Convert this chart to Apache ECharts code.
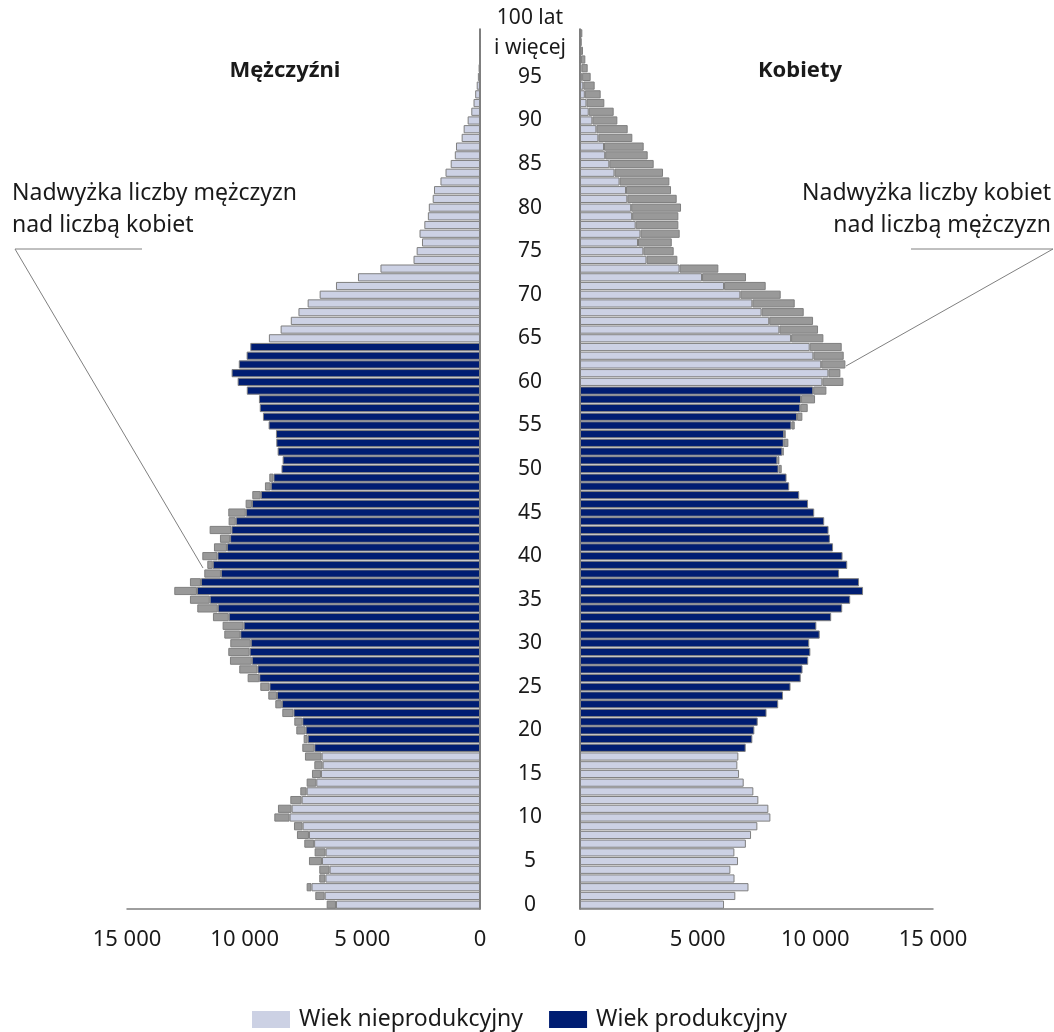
<!DOCTYPE html>
<html>
<head>
<meta charset="utf-8">
<script src="https://cdn.jsdelivr.net/npm/echarts/dist/echarts.min.js"></script>
<style>
html,body{margin:0;padding:0;background:#ffffff;}
#chart{width:1054px;height:1032px;}
</style>
</head>
<body>
<div id="chart"></div>
<script>
// ---- Data ----
const ages = ['0','1','2','3','4','5','6','7','8','9','10','11','12','13','14','15','16','17','18','19',
  '20','21','22','23','24','25','26','27','28','29','30','31','32','33','34','35','36','37','38','39',
  '40','41','42','43','44','45','46','47','48','49','50','51','52','53','54','55','56','57','58','59',
  '60','61','62','63','64','65','66','67','68','69','70','71','72','73','74','75','76','77','78','79',
  '80','81','82','83','84','85','86','87','88','89','90','91','92','93','94','95','96','97','98','99','100'];

const males = [6515,7000,7366,6830,6830,7268,7027,7466,7778,7905,
  8740,8585,8061,7636,7366,7140,7040,7438,7551,7494,
  7806,7891,8401,8698,8996,9336,9874,10229,10625,10696,
  10611,10866,10937,11348,12013,12325,12991,12325,11716,11588,
  11800,11305,11050,11489,10682,10696,9959,9676,9138,8953,
  8436,8387,8599,8656,8670,8982,9223,9358,9393,9910,
  10299,10555,10250,9917,9760,8970,8472,8040,7715,7324,
  6814,6120,5185,4230,2825,2692,2465,2570,2365,2215,
  2175,2010,1955,1680,1465,1245,1070,1020,780,695,
  525,370,275,205,140,90,60,40,25,15,10];

const females = [6120,6600,7160,6566,6390,6715,6560,7048,7268,7537,
  8090,8004,7579,7366,6956,6758,6686,6729,7040,7324,
  7409,7551,7926,8422,8627,8946,9379,9456,9697,9789,
  9740,10186,10044,10675,11142,11482,12028,11857,11008,11355,
  11156,10753,10618,10561,10377,9952,9690,9315,8890,8776,
  8571,8472,8656,8854,8741,9124,9449,9676,9988,10470,
  11192,11064,11277,11206,11121,10342,10115,9903,9506,9124,
  8528,7891,7055,5879,4137,3981,3900,4236,4179,4179,
  4293,4109,3868,3797,3528,3131,2876,2706,2224,2026,
  1587,1431,1034,878,623,453,326,227,128,71,99];

// productive age ranges (inclusive)
const maleProductive = [18, 64];
const femaleProductive = [18, 59];

const axisTicks = [0, 5000, 10000, 15000];
const ageLabelStep = 5;
const seriesNames = ['Wiek nieprodukcyjny', 'Wiek produkcyjny'];
const sideTitles = ['Mężczyźni', 'Kobiety'];
const notes = ['Nadwyżka liczby mężczyzn\nnad liczbą kobiet', 'Nadwyżka liczby kobiet\nnad liczbą mężczyzn'];
const topAgeLabel = '100 lat\ni więcej';

// ---- Derived ----
function buildSide(own, other, range) {
  const nonprod = [], prod = [], surplus = [];
  for (let i = 0; i < own.length; i++) {
    const base = Math.min(own[i], other[i]);
    const inRange = i >= range[0] && i <= range[1];
    nonprod.push(inRange ? '-' : base);
    prod.push(inRange ? base : '-');
    const d = own[i] - other[i];
    surplus.push(d > 0 ? d : '-');
  }
  return {nonprod, prod, surplus};
}
const L = buildSide(males, females, maleProductive);
const R = buildSide(females, males, femaleProductive);
const lastIdx = ages.length - 1;

const FONT = '"Noto Sans", "Open Sans", sans-serif';
const TXT = '#1a1a1a';
const COL_LIGHT = '#ccd1e4';
const COL_DARK = '#001d72';
const COL_GRAY = '#999999';
const BORDER = '#7f7f7f';

function fmt(v) { return String(v).replace(/\B(?=(\d{3})+(?!\d))/g, ' '); }

const xMax = axisTicks[axisTicks.length - 1];
const xInt = axisTicks[1] - axisTicks[0];

function barSeries(name, data, idx, color, stack) {
  return {
    name: name, type: 'bar', xAxisIndex: idx, yAxisIndex: idx, stack: stack,
    data: data, barCategoryGap: '6%',
    itemStyle: {color: color, borderColor: BORDER, borderWidth: 1},
    emphasis: {disabled: true}, animation: false
  };
}

const chart = echarts.init(document.getElementById('chart'), null, {renderer: 'canvas'});
const option = {
  backgroundColor: '#ffffff',
  animation: false,
  textStyle: {fontFamily: FONT, color: TXT},
  grid: [
    {left: 127, right: 574, top: 29, bottom: 123, containLabel: false, outerBoundsMode: 'none'},
    {left: 580, right: 121, top: 29, bottom: 123, containLabel: false, outerBoundsMode: 'none'}
  ],
  xAxis: [
    {gridIndex: 0, type: 'value', inverse: true, min: 0, max: xMax, interval: xInt,
     splitLine: {show: false}, axisTick: {show: false},
     axisLine: {show: true, lineStyle: {color: '#7f7f7f', width: 1.5}},
     axisLabel: {fontSize: 22, color: TXT, margin: 20, fontFamily: FONT, formatter: fmt}},
    {gridIndex: 1, type: 'value', min: 0, max: xMax, interval: xInt,
     splitLine: {show: false}, axisTick: {show: false},
     axisLine: {show: true, lineStyle: {color: '#7f7f7f', width: 1.5}},
     axisLabel: {fontSize: 22, color: TXT, margin: 20, fontFamily: FONT, formatter: fmt}}
  ],
  yAxis: [
    {gridIndex: 0, type: 'category', data: ages, position: 'right',
     axisLine: {show: true, onZero: false, lineStyle: {color: '#555555', width: 1.5}},
     axisTick: {show: false}, axisLabel: {show: false}, splitLine: {show: false}},
    {gridIndex: 1, type: 'category', data: ages, position: 'left',
     axisLine: {show: true, onZero: false, lineStyle: {color: '#555555', width: 1.5}},
     axisTick: {show: false}, splitLine: {show: false},
     axisLabel: {show: true, hideOverlap: false,
       interval: function (i) { return i % ageLabelStep === 0 && i < lastIdx; },
       margin: 50, align: 'center', fontSize: 21, color: TXT, fontFamily: FONT}},
    {gridIndex: 1, type: 'category', data: ages, position: 'left',
     axisLine: {show: false}, axisTick: {show: false}, splitLine: {show: false},
     axisLabel: {show: true, hideOverlap: false,
       interval: function (i) { return i === lastIdx; },
       margin: 50, align: 'center', fontSize: 21, color: TXT, fontFamily: FONT,
       lineHeight: 30, padding: [10, 0, 0, 0],
       formatter: function () { return topAgeLabel; }}}
  ],
  legend: {
    data: seriesNames, left: 247, top: 1003, itemWidth: 38, itemHeight: 17, itemGap: 26,
    icon: 'rect', itemStyle: {borderWidth: 0},
    textStyle: {fontSize: 23, color: TXT, fontFamily: FONT, padding: [0, 0, 0, 4]}
  },
  series: [
    barSeries(seriesNames[0], L.nonprod, 0, COL_LIGHT, 'L'),
    barSeries(seriesNames[1], L.prod, 0, COL_DARK, 'L'),
    barSeries('surplusL', L.surplus, 0, COL_GRAY, 'L'),
    barSeries(seriesNames[0], R.nonprod, 1, COL_LIGHT, 'R'),
    barSeries(seriesNames[1], R.prod, 1, COL_DARK, 'R'),
    barSeries('surplusR', R.surplus, 1, COL_GRAY, 'R')
  ],
  graphic: [
    {type: 'text', style: {text: sideTitles[0], x: 285, y: 71, textAlign: 'center', textVerticalAlign: 'middle',
      font: 'bold 22px ' + FONT, fill: TXT}},
    {type: 'text', style: {text: sideTitles[1], x: 800, y: 71, textAlign: 'center', textVerticalAlign: 'middle',
      font: 'bold 22px ' + FONT, fill: TXT}},
    {type: 'text', style: {text: notes[0], x: 12, y: 177, textAlign: 'left', textVerticalAlign: 'top',
      font: '23px ' + FONT, lineHeight: 32, fill: TXT}},
    {type: 'text', style: {text: notes[1], x: 1051, y: 177, textAlign: 'right', textVerticalAlign: 'top',
      font: '23px ' + FONT, lineHeight: 32, fill: TXT, align: 'right'}},
    {type: 'polyline', shape: {points: [[142, 249], [15, 249], [203, 568]]},
      style: {stroke: '#808080', lineWidth: 1, fill: null}},
    {type: 'polyline', shape: {points: [[911, 249], [1053, 249], [846, 366]]},
      style: {stroke: '#808080', lineWidth: 1, fill: null}}
  ]
};
chart.setOption(option);
</script>
</body>
</html>
